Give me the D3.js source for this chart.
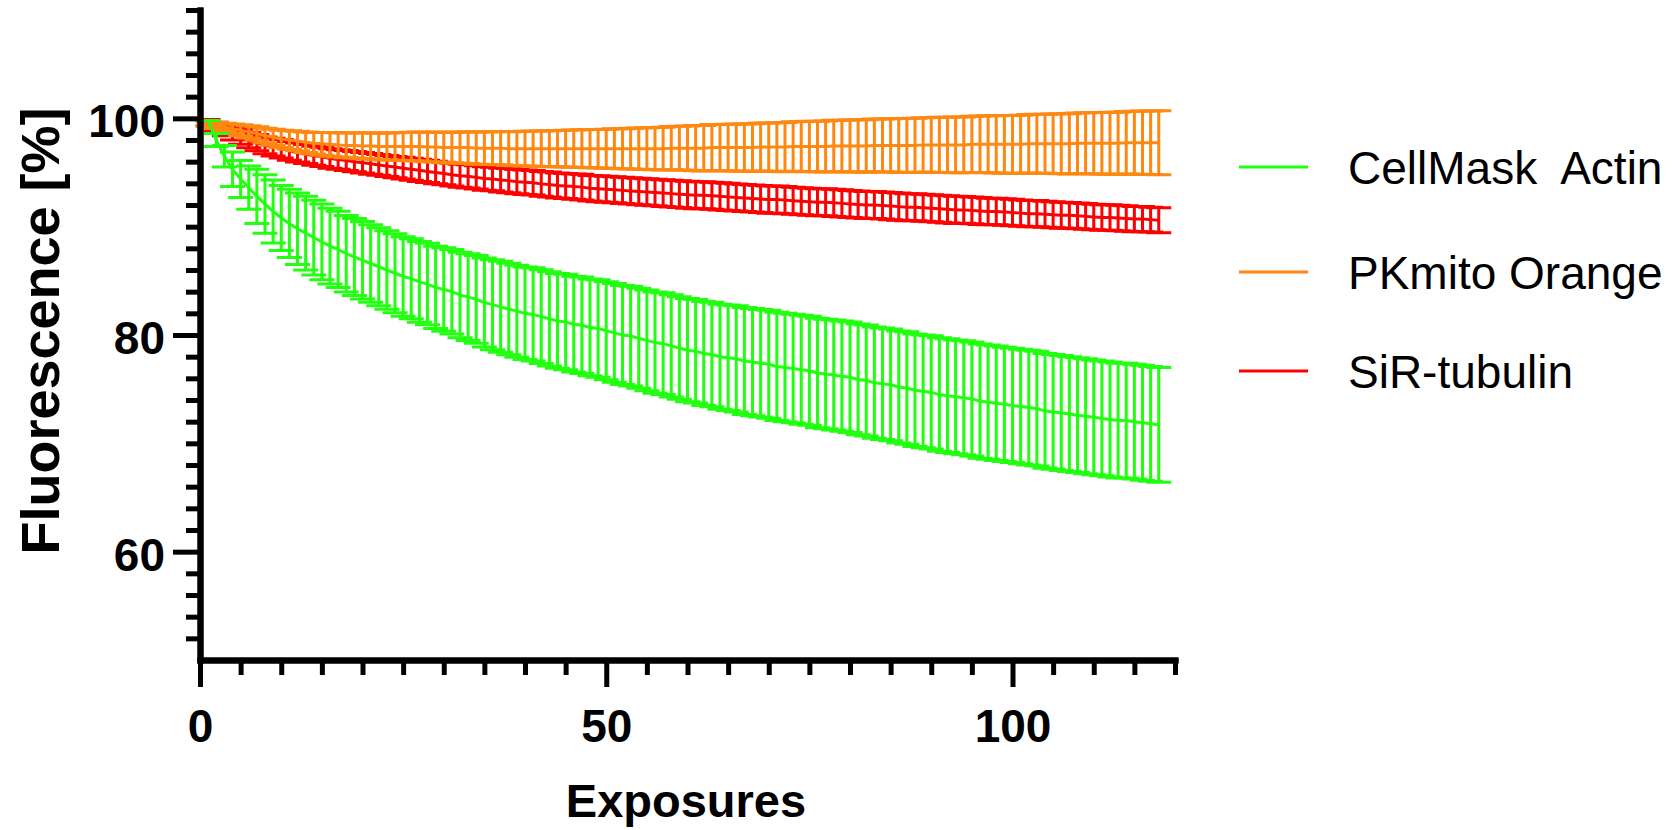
<!DOCTYPE html>
<html>
<head>
<meta charset="utf-8">
<script src="https://cdn.jsdelivr.net/npm/d3@7"></script>
<style>
  body { margin: 0; background: #fff; }
  text { font-family: "Liberation Sans", Arial, sans-serif; }
</style>
</head>
<body>
<script>
// chart size
var width = 1675;
var height = 830;

// series names and colours (legend order)
var seriesNames = ["CellMask  Actin", "PKmito Orange", "SiR-tubulin"];
var seriesColors = ["#22ff11", "#ff8811", "#ff0000"];

// mean values per exposure (1..118)
var actinMean = [99.8,98.0,96.5,95.3,94.4,93.6,92.8,92.1,91.4,90.8,90.3,89.8,89.4,89.0,88.6,88.2,87.9,87.5,87.2,86.9,
  86.6,86.3,86.0,85.7,85.4,85.2,84.9,84.7,84.4,84.2,84.0,83.7,83.5,83.3,83.0,82.8,82.6,82.4,82.2,82.0,
  81.9,81.7,81.5,81.3,81.2,81.0,80.9,80.7,80.6,80.4,80.2,80.0,79.9,79.7,79.5,79.3,79.2,79.0,78.8,78.6,
  78.5,78.3,78.2,78.0,77.9,77.8,77.6,77.5,77.4,77.3,77.1,77.0,76.9,76.8,76.7,76.5,76.4,76.3,76.2,76.1,
  75.9,75.8,75.6,75.5,75.4,75.2,75.1,74.9,74.8,74.7,74.5,74.4,74.3,74.2,74.1,73.9,73.8,73.7,73.6,73.5,
  73.4,73.3,73.2,73.0,72.9,72.8,72.7,72.6,72.5,72.4,72.3,72.2,72.1,72.1,72.0,71.9,71.8,71.7];
var actinSD = [0,0.6,1.0,1.6,1.7,2.0,2.5,2.7,2.9,3.0,3.15,3.3,3.4,3.45,3.5,3.5,3.52,3.54,3.56,3.57,
  3.58,3.6,3.62,3.64,3.66,3.69,3.72,3.76,3.8,3.85,3.9,3.95,4.0,4.05,4.1,4.15,4.2,4.22,4.25,4.27,
  4.3,4.32,4.35,4.37,4.4,4.42,4.45,4.47,4.5,4.52,4.55,4.57,4.6,4.62,4.65,4.67,4.7,4.72,4.74,4.76,
  4.78,4.8,4.83,4.85,4.88,4.9,4.93,4.95,4.96,4.98,4.99,5.0,5.01,5.03,5.04,5.05,5.06,5.08,5.09,5.1,
  5.11,5.12,5.14,5.15,5.16,5.17,5.19,5.2,5.21,5.22,5.24,5.25,5.25,5.26,5.26,5.27,5.27,5.28,5.28,5.28,
  5.29,5.29,5.29,5.3,5.3,5.3,5.3,5.3,5.3,5.3,5.3,5.3,5.3,5.3,5.3,5.3,5.3,5.3];

var mitoMean = [99.5,99.35,99.2,99.05,98.9,98.75,98.6,98.4,98.25,98.1,98.0,97.9,97.8,97.7,97.65,97.6,97.55,97.5,97.5,97.45,
  97.45,97.4,97.4,97.4,97.4,97.4,97.4,97.35,97.35,97.3,97.3,97.3,97.3,97.25,97.25,97.25,97.25,97.2,97.2,97.2,
  97.2,97.2,97.2,97.2,97.2,97.2,97.2,97.2,97.2,97.2,97.2,97.2,97.2,97.2,97.2,97.2,97.2,97.25,97.25,97.25,
  97.25,97.25,97.3,97.3,97.3,97.3,97.3,97.3,97.35,97.35,97.35,97.35,97.4,97.4,97.4,97.4,97.4,97.45,97.45,97.45,
  97.45,97.45,97.5,97.5,97.5,97.5,97.5,97.5,97.55,97.55,97.55,97.55,97.55,97.55,97.6,97.6,97.6,97.6,97.6,97.6,
  97.6,97.65,97.65,97.65,97.65,97.65,97.65,97.7,97.7,97.7,97.7,97.7,97.7,97.75,97.75,97.75,97.75,97.75];
var mitoSD = [0.2,0.28,0.35,0.42,0.5,0.56,0.62,0.68,0.74,0.8,0.85,0.9,0.95,1.0,1.05,1.1,1.12,1.14,1.17,1.19,
  1.21,1.23,1.25,1.28,1.3,1.32,1.34,1.36,1.38,1.4,1.42,1.44,1.46,1.48,1.5,1.52,1.54,1.56,1.58,1.6,
  1.62,1.64,1.66,1.68,1.7,1.72,1.74,1.76,1.78,1.8,1.83,1.85,1.88,1.9,1.93,1.95,1.98,2.0,2.03,2.05,
  2.08,2.1,2.12,2.13,2.15,2.17,2.18,2.2,2.22,2.23,2.25,2.27,2.28,2.3,2.32,2.33,2.35,2.37,2.38,2.4,
  2.41,2.43,2.44,2.45,2.46,2.48,2.49,2.5,2.51,2.53,2.54,2.55,2.57,2.58,2.6,2.61,2.63,2.64,2.66,2.67,
  2.69,2.7,2.72,2.73,2.75,2.77,2.78,2.8,2.81,2.83,2.84,2.86,2.87,2.89,2.9,2.92,2.93,2.95];

var tubulinMean = [99.6,99.25,98.9,98.6,98.3,98.0,97.75,97.5,97.35,97.2,97.0,96.85,96.7,96.55,96.45,96.3,96.2,96.1,96.0,95.9,
  95.8,95.7,95.6,95.5,95.4,95.3,95.2,95.1,95.0,94.9,94.8,94.7,94.65,94.55,94.45,94.4,94.3,94.25,94.15,94.1,
  94.05,93.95,93.9,93.8,93.75,93.7,93.65,93.55,93.5,93.45,93.4,93.35,93.3,93.25,93.2,93.15,93.1,93.05,93.0,92.95,
  92.9,92.9,92.85,92.8,92.75,92.7,92.65,92.6,92.55,92.5,92.5,92.45,92.4,92.35,92.3,92.25,92.25,92.2,92.15,92.1,
  92.05,92.0,92.0,91.95,91.9,91.85,91.8,91.8,91.75,91.7,91.65,91.6,91.55,91.55,91.5,91.45,91.4,91.4,91.35,91.3,
  91.25,91.2,91.2,91.15,91.1,91.05,91.05,91.0,90.95,90.9,90.85,90.85,90.8,90.75,90.7,90.7,90.65,90.6];
var tubulinSD = [0.3,0.4,0.5,0.6,0.7,0.72,0.75,0.78,0.82,0.85,0.86,0.87,0.88,0.88,0.89,0.9,0.91,0.92,0.93,0.94,
  0.95,0.96,0.97,0.98,1.0,1.01,1.02,1.03,1.03,1.04,1.05,1.06,1.07,1.08,1.08,1.09,1.1,1.11,1.12,1.12,
  1.13,1.14,1.15,1.15,1.16,1.17,1.18,1.18,1.19,1.2,1.2,1.21,1.21,1.22,1.22,1.23,1.23,1.24,1.24,1.24,
  1.25,1.25,1.25,1.25,1.25,1.25,1.25,1.25,1.25,1.25,1.25,1.25,1.25,1.25,1.25,1.25,1.25,1.25,1.25,1.25,
  1.25,1.25,1.25,1.25,1.25,1.25,1.25,1.25,1.25,1.25,1.25,1.25,1.25,1.24,1.24,1.24,1.23,1.23,1.23,1.22,
  1.22,1.21,1.21,1.2,1.2,1.2,1.19,1.19,1.19,1.18,1.18,1.17,1.17,1.17,1.16,1.16,1.15,1.15];

// axis ticks
var xMajorTicks = [0, 50, 100];
var xMinorTicks = [5,10,15,20,25,30,35,40,45,55,60,65,70,75,80,85,90,95,105,110,115,120];
var yMajorTicks = [60, 80, 100];
var yMinorTicks = [52,54,56,58,62,64,66,68,70,72,74,76,78,82,84,86,88,90,92,94,96,98,102,104,106,108,110];

var series = [
  {name: seriesNames[0], color: seriesColors[0], mean: actinMean, sd: actinSD},
  {name: seriesNames[1], color: seriesColors[1], mean: mitoMean, sd: mitoSD},
  {name: seriesNames[2], color: seriesColors[2], mean: tubulinMean, sd: tubulinSD}
];

var svg = d3.select("body")
  .append("svg")
  .attr("width", width)
  .attr("height", height);

var x = d3.scaleLinear().domain([0, 120]).range([200, 1175]);
var y = d3.scaleLinear().domain([50, 110]).range([660, 10]);

// data: red first, then orange, green on top
var plot = svg.append("g");
var drawOrder = [series[2], series[1], series[0]];
var capW = 12.5;

drawOrder.forEach(s => {
  var pts = s.mean.map((m, i) => ({x: i + 1, m: m, sd: s.sd[i]}));
  var g = plot.append("g");

  g.selectAll("path.err")
    .data(pts)
    .join("path")
      .attr("class", "err")
      .attr("fill", "none")
      .attr("stroke", s.color)
      .attr("stroke-width", 3)
      .attr("d", d => {
        var px = x(d.x), hi = y(d.m + d.sd), lo = y(d.m - d.sd);
        return "M" + px + "," + lo + "V" + hi +
               "M" + (px - capW) + "," + hi + "H" + (px + capW) +
               "M" + (px - capW) + "," + lo + "H" + (px + capW);
      });

  g.append("path")
    .datum(pts)
    .attr("fill", "none")
    .attr("stroke", s.color)
    .attr("stroke-width", 3)
    .attr("d", d3.line().x(d => x(d.x)).y(d => y(d.m)));
});

// axes
function styleAxis(g, labelSize) {
  g.select(".domain").attr("stroke-width", 6).attr("stroke-linecap", "square");
  g.selectAll(".tick line").attr("stroke-width", 5);
  g.selectAll(".tick text")
    .attr("fill", "#000")
    .style("font-family", '"Liberation Sans", Arial, sans-serif')
    .style("font-weight", "bold")
    .style("font-size", labelSize + "px");
}

svg.append("g")
  .attr("transform", "translate(0,660)")
  .call(d3.axisBottom(x).tickValues(xMinorTicks).tickSize(15).tickSizeOuter(0).tickFormat(""))
  .call(g => styleAxis(g, 46));

svg.append("g")
  .attr("transform", "translate(0,660)")
  .call(d3.axisBottom(x).tickValues(xMajorTicks).tickSize(27).tickSizeOuter(0).tickPadding(22).tickFormat(d3.format("d")))
  .call(g => styleAxis(g, 46));

svg.append("g")
  .attr("transform", "translate(200,0)")
  .call(d3.axisLeft(y).tickValues(yMinorTicks).tickSize(14).tickSizeOuter(0).tickFormat(""))
  .call(g => styleAxis(g, 46));

svg.append("g")
  .attr("transform", "translate(200,0)")
  .call(d3.axisLeft(y).tickValues(yMajorTicks).tickSize(27).tickSizeOuter(0).tickPadding(8).tickFormat(d3.format("d")))
  .call(g => styleAxis(g, 46))
  .call(g => g.selectAll(".tick text").attr("dy", "0.4em"));

// axis titles
svg.append("text")
  .attr("x", 686)
  .attr("y", 817)
  .attr("text-anchor", "middle")
  .style("font-weight", "bold")
  .style("font-size", "47px")
  .text("Exposures");

svg.append("text")
  .attr("transform", "translate(59,331) rotate(-90)")
  .attr("text-anchor", "middle")
  .style("font-weight", "bold")
  .style("font-size", "54px")
  .text("Fluorescence [%]");

// legend
var legendY = [167, 272, 371];
var legend = svg.append("g")
  .selectAll("g")
  .data(series)
  .join("g")
    .attr("transform", (d, i) => "translate(0," + legendY[i] + ")");

legend.append("line")
  .attr("x1", 1239).attr("x2", 1308)
  .attr("stroke", d => d.color)
  .attr("stroke-width", 3);

legend.append("text")
  .attr("x", 1348)
  .attr("y", 17)
  .style("font-size", "46px")
  .style("white-space", "pre")
  .attr("xml:space", "preserve")
  .text(d => d.name);
</script>
</body>
</html>
